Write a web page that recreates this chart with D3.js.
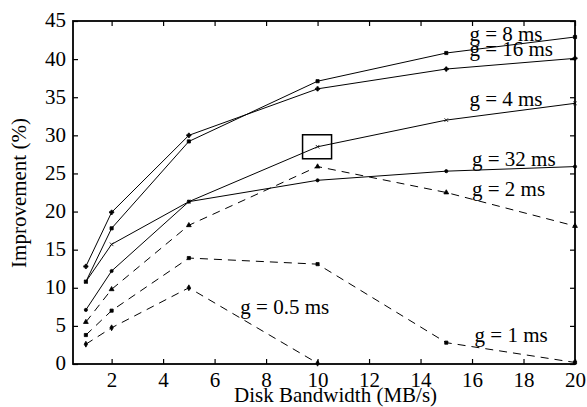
<!DOCTYPE html>
<html>
<head>
<meta charset="utf-8">
<script src="https://cdn.jsdelivr.net/npm/d3@7"></script>
<style>
  body { margin: 0; background: #fff; }
  svg { display: block; }
  svg text { font-family: 'Liberation Serif', 'Times New Roman', Times, 'DejaVu Serif', serif !important; fill: #000; }
</style>
</head>
<body>
<svg id="chart" width="587" height="407"></svg>
<script>
// disk bandwidth (MB/s)
var bandwidth = [1, 2, 5, 10, 15, 20];
var bandwidthShort = [1, 2, 5, 10];

// improvement (%) per gap g
var g8  = [10.8, 17.8, 29.2, 37.1, 40.8, 42.9];
var g16 = [12.8, 19.9, 30.0, 36.1, 38.7, 40.1];
var g4  = [10.8, 15.7, 21.3, 28.5, 32.0, 34.2];
var g32 = [7.1, 12.2, 21.3, 24.1, 25.3, 25.9];
var g2  = [5.5, 9.8, 18.2, 25.9, 22.5, 18.1];
var g1  = [3.8, 7.0, 13.9, 13.1, 2.8, 0.2];
var g05 = [2.6, 4.75, 10.0, 0.1];

var xTicks = [2, 4, 6, 8, 10, 12, 14, 16, 18, 20];
var yTicks = [0, 5, 10, 15, 20, 25, 30, 35, 40, 45];

// label text and anchor point in data units
var labelNames = ['g = 8 ms', 'g = 16 ms', 'g = 4 ms', 'g = 32 ms', 'g = 2 ms', 'g = 1 ms', 'g = 0.5 ms'];
var labelX = [15.9, 15.9, 15.9, 16.0, 16.0, 16.1, 7.0];
var labelY = [42.4, 40.4, 33.8, 26.0, 22.0, 2.9, 6.5];

var SERIF = "'Liberation Serif', 'Times New Roman', Times, serif";

var series = [
    {xs: bandwidth, ys: g8, dash: null, sym: d3.symbolSquare, size: 10},
    {xs: bandwidth, ys: g16, dash: null, sym: d3.symbolCross, size: 10},
    {xs: bandwidth, ys: g4, dash: null, sym: d3.symbolX, size: 10},
    {xs: bandwidth, ys: g32, dash: null, sym: d3.symbolCircle, size: 8},
    {xs: bandwidth, ys: g2, dash: '8,6', sym: d3.symbolTriangle, size: 10},
    {xs: bandwidth, ys: g1, dash: '8,6', sym: d3.symbolSquare, size: 10},
    {xs: bandwidthShort, ys: g05, dash: '8,6', sym: d3.symbolDiamond, size: 10}
];

var svg = d3.select('#chart');
var margin = {top: 21, right: 12, bottom: 43, left: 73},
    width = 587 - margin.left - margin.right,
    height = 407 - margin.top - margin.bottom;

var x = d3.scaleLinear().domain([0.5, 20]).range([0, width]);
var y = d3.scaleLinear().domain([0, 45]).range([height, 0]);

var g = svg.append('g').attr('transform', 'translate(' + margin.left + ',' + margin.top + ')');

// frame axes, ticks pointing inward
g.append('g')
    .attr('font-family', SERIF)
    .attr('transform', 'translate(0,' + height + ')')
    .call(d3.axisBottom(x).tickValues(xTicks).tickSizeInner(-5).tickSizeOuter(0).tickPadding(8))
    .call(function(a) { a.selectAll('text').attr('font-size', 21); });
g.append('g')
    .call(d3.axisTop(x).tickValues(xTicks).tickSizeInner(-5).tickSizeOuter(0).tickFormat(''));
g.append('g')
    .attr('font-family', SERIF)
    .call(d3.axisLeft(y).tickValues(yTicks).tickSizeInner(-5).tickSizeOuter(0).tickPadding(7))
    .call(function(a) { a.selectAll('text').attr('font-size', 21).attr('dy', '0.28em'); });
g.append('g')
    .attr('transform', 'translate(' + width + ',0)')
    .call(d3.axisRight(y).tickValues(yTicks).tickSizeInner(-5).tickSizeOuter(0).tickFormat(''));

g.selectAll('.domain').remove();
g.selectAll('.tick line').attr('stroke', '#000').attr('stroke-width', 1.2);
g.selectAll('.tick text').attr('font-family', SERIF).attr('fill', '#000');

g.append('rect')
    .attr('width', width)
    .attr('height', height)
    .attr('fill', 'none')
    .attr('stroke', '#000')
    .attr('stroke-width', 1.8);

var line = d3.line()
    .x(function(d) { return x(d[0]); })
    .y(function(d) { return y(d[1]); });

series.forEach(function(s) {
    var pts = s.xs.map(function(v, i) { return [v, s.ys[i]]; });
    g.append('path')
        .datum(pts)
        .attr('fill', 'none')
        .attr('stroke', '#000')
        .attr('stroke-width', 1)
        .attr('stroke-dasharray', s.dash)
        .attr('d', line);
    g.selectAll(null)
        .data(pts)
        .enter().append('path')
        .attr('transform', function(d) { return 'translate(' + x(d[0]) + ',' + y(d[1]) + ')'; })
        .attr('d', d3.symbol().type(s.sym).size(s.size))
        .attr('fill', '#000')
        .attr('stroke', '#000')
        .attr('stroke-width', 0.8);
});

// highlighted point
g.append('rect')
    .attr('x', x(10) - 15)
    .attr('y', y(28.5) - 12)
    .attr('width', 29)
    .attr('height', 24)
    .attr('fill', 'none')
    .attr('stroke', '#000')
    .attr('stroke-width', 1.5);

g.selectAll('.glabel')
    .data(labelNames)
    .enter().append('text')
    .attr('class', 'glabel')
    .attr('font-family', SERIF)
    .attr('x', function(d, i) { return x(labelX[i]); })
    .attr('y', function(d, i) { return y(labelY[i]); })
    .attr('font-size', 21)
    .text(function(d) { return d; });

svg.append('text')
    .attr('font-family', SERIF)
    .attr('x', margin.left + x(10.7))
    .attr('y', 402)
    .attr('text-anchor', 'middle')
    .attr('font-size', 21)
    .text('Disk Bandwidth (MB/s)');

svg.append('text')
    .attr('font-family', SERIF)
    .attr('transform', 'translate(26,193) rotate(-90)')
    .attr('text-anchor', 'middle')
    .attr('font-size', 21)
    .text('Improvement (%)');
</script>
</body>
</html>
